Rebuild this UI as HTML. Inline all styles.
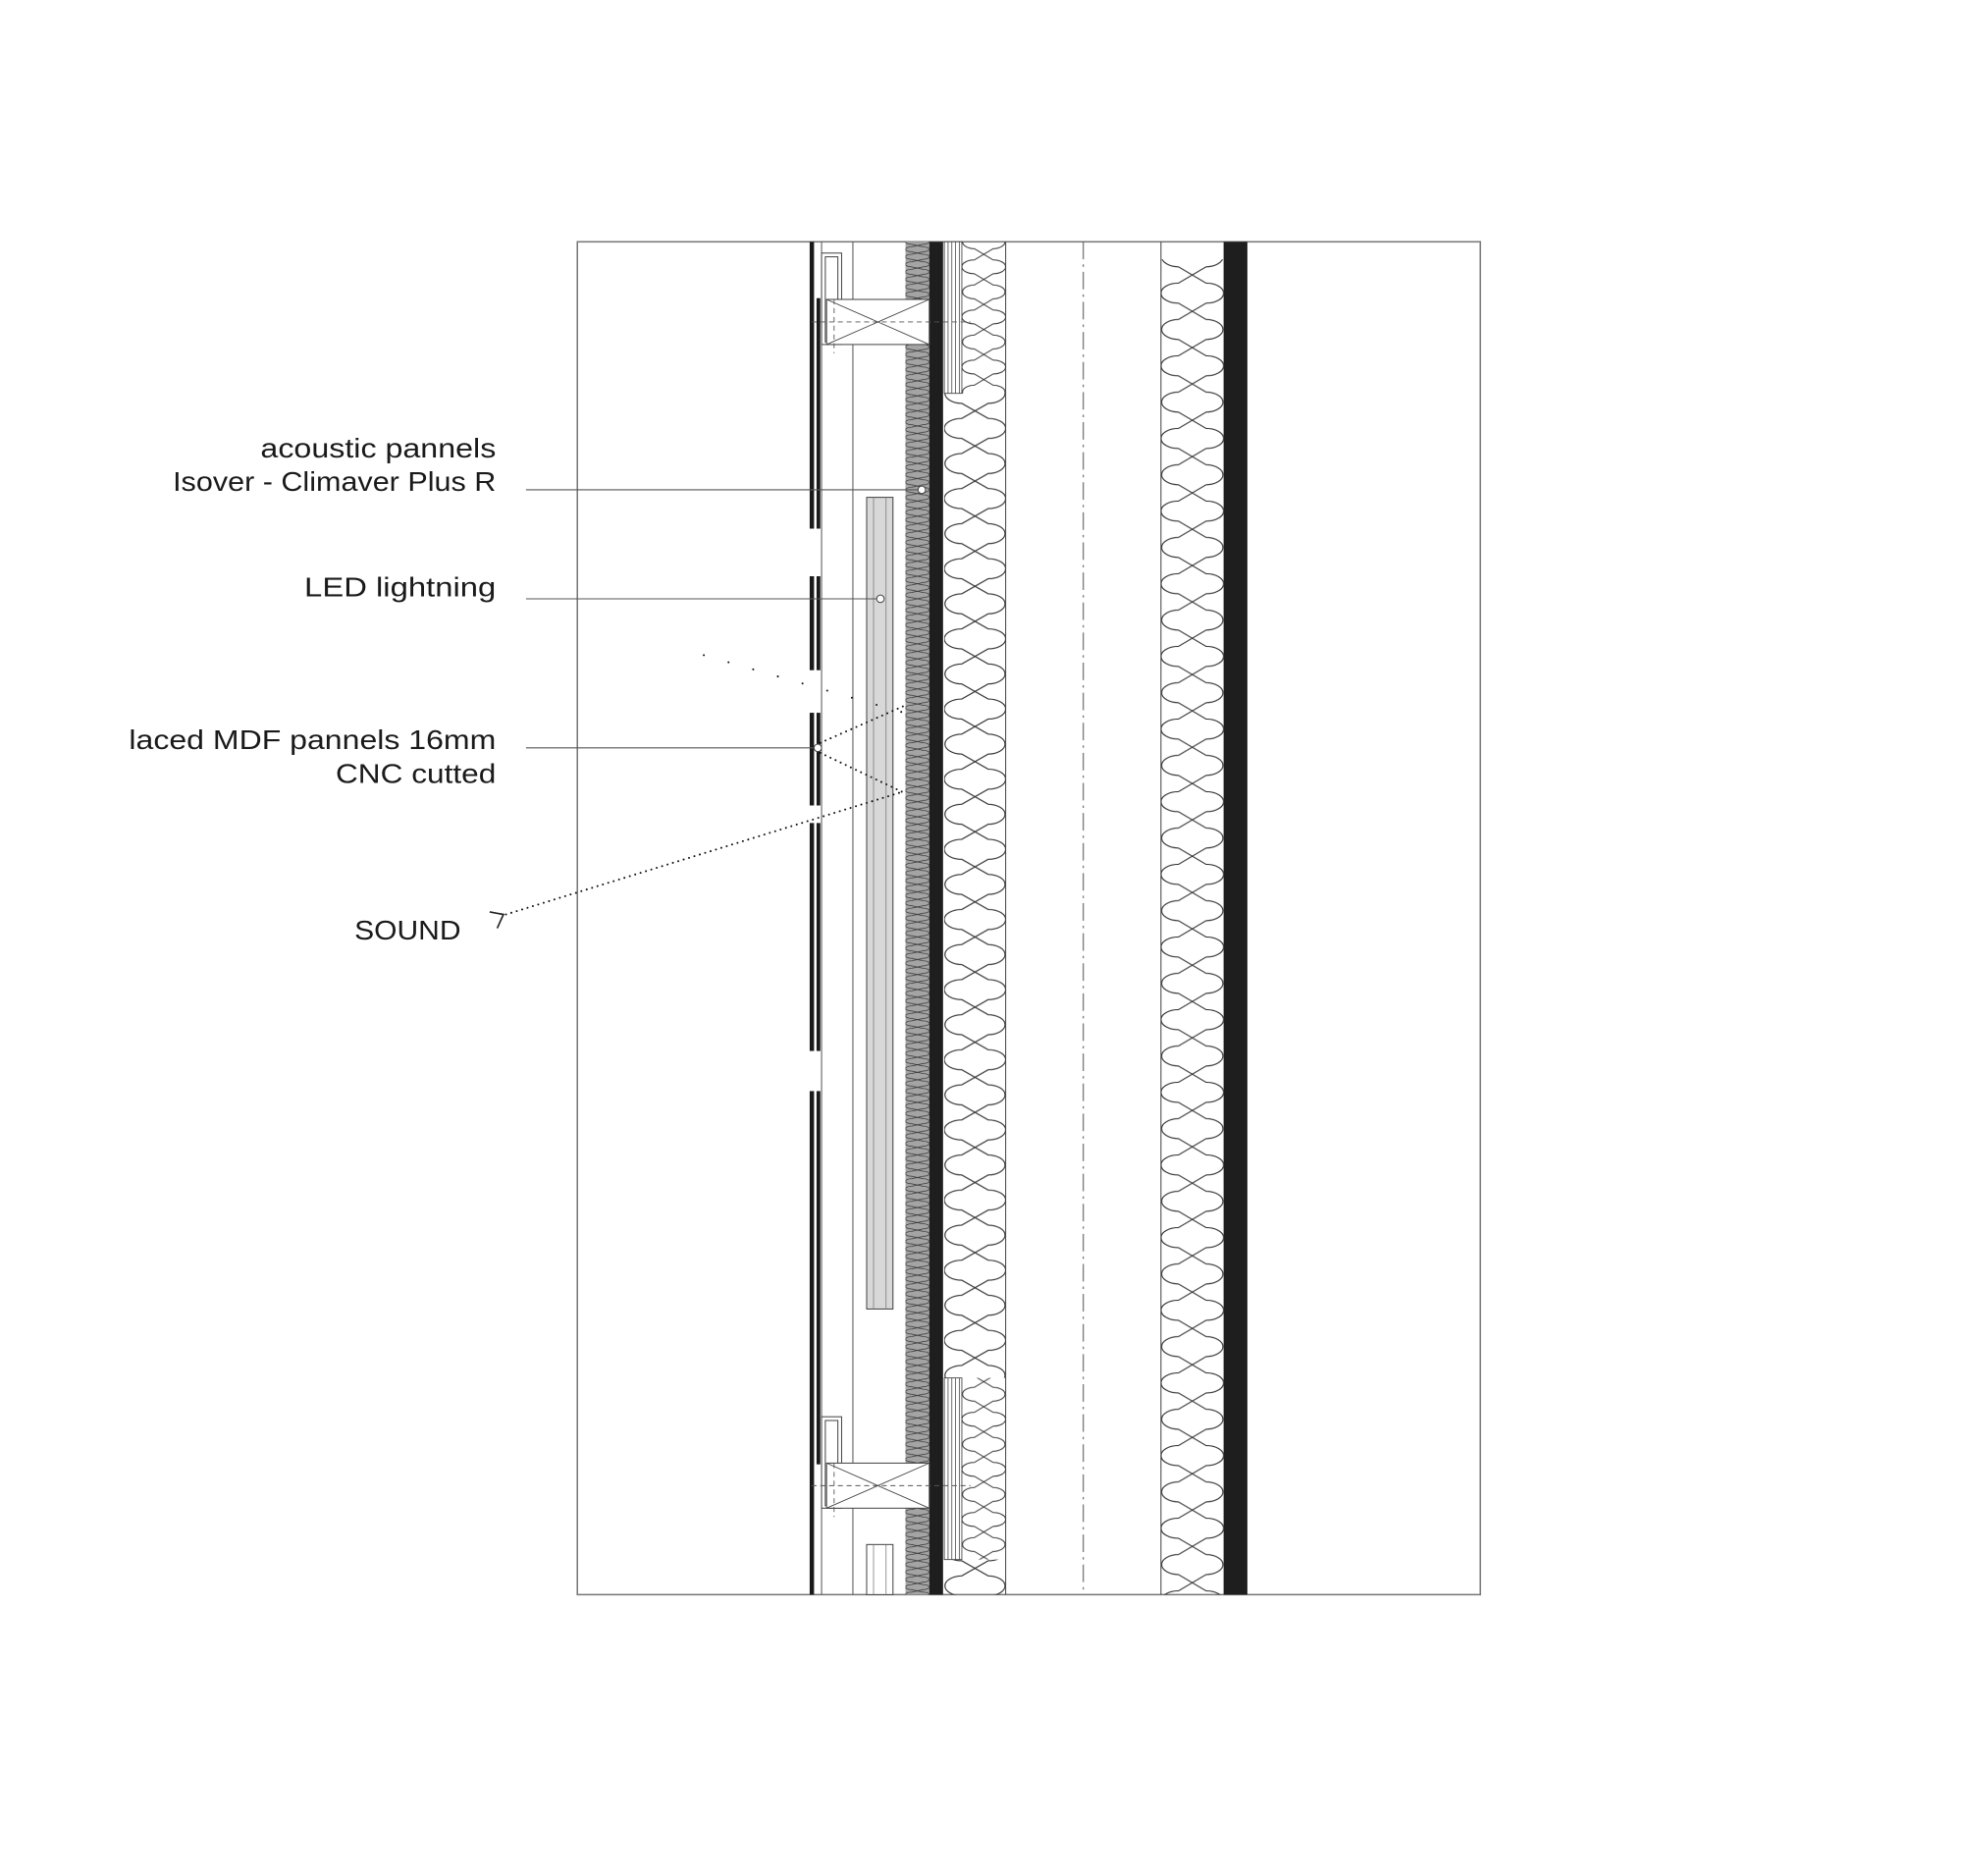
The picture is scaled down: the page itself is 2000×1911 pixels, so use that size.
<!DOCTYPE html>
<html><head><meta charset="utf-8"><style>html,body{margin:0;padding:0;background:#fff}svg{display:block}</style></head>
<body>
<svg xmlns="http://www.w3.org/2000/svg" width="2000" height="1911" viewBox="0 0 1567.4 1497.6">
<defs>
<pattern id="insR" patternUnits="userSpaceOnUse" x="927" y="205" width="50" height="58">
<path d="M0.5,0 A14 8 0 0 0 14,8 L36,21 A14 8 0 0 1 36,37 L14,50 A14 8 0 0 0 0.5,58" fill="none" stroke="#333" stroke-width="0.9"/>
<path d="M49.5,0 A14 8 0 0 1 36,8 L14,21 A14 8 0 0 0 14,37 L36,50 A14 8 0 0 1 49.5,58" fill="none" stroke="#333" stroke-width="0.9"/>
</pattern>
<pattern id="insM" patternUnits="userSpaceOnUse" x="754" y="314" width="49" height="56">
<path d="M0.5,0 A14 8 0 0 0 14,8 L35,20 A14 8 0 0 1 35,36 L14,48 A14 8 0 0 0 0.5,56" fill="none" stroke="#333" stroke-width="0.9"/>
<path d="M48.5,0 A14 8 0 0 1 35,8 L14,20 A14 8 0 0 0 14,36 L35,48 A14 8 0 0 1 48.5,56" fill="none" stroke="#333" stroke-width="0.9"/>
</pattern>
<pattern id="insN" patternUnits="userSpaceOnUse" x="768" y="193" width="35" height="40">
<path d="M0.5,0 A10 5.5 0 0 0 10,5.5 L25,14.5 A10 5.5 0 0 1 25,25.5 L10,34.5 A10 5.5 0 0 0 0.5,40" fill="none" stroke="#333" stroke-width="0.8"/>
<path d="M34.5,0 A10 5.5 0 0 1 25,5.5 L10,14.5 A10 5.5 0 0 0 10,25.5 L25,34.5 A10 5.5 0 0 1 34.5,40" fill="none" stroke="#333" stroke-width="0.8"/>
</pattern>
<pattern id="insG" patternUnits="userSpaceOnUse" x="723" y="193" width="19" height="12">
<rect width="19" height="12" fill="#a4a4a4"/>
<path d="M0,0 A5 2 0 0 0 5,2 L14,4 A5 2 0 0 1 14,8 L5,10 A5 2 0 0 0 0,12" fill="none" stroke="#333" stroke-width="0.6"/>
<path d="M19,0 A5 2 0 0 1 14,2 L5,4 A5 2 0 0 0 5,8 L14,10 A5 2 0 0 1 19,12" fill="none" stroke="#333" stroke-width="0.6"/>
</pattern>
</defs>

<rect x="461" y="193" width="721" height="1080" fill="none" stroke="#777" stroke-width="1.2"/>

<line x1="656" y1="193" x2="656" y2="1273" stroke="#555" stroke-width="0.8"/>
<line x1="681" y1="193" x2="681" y2="1273" stroke="#555" stroke-width="0.8"/>

<g fill="#1a1a1a">
<rect x="646.5" y="193" width="3.5" height="229"/>
<rect x="646.5" y="460" width="3.5" height="75"/>
<rect x="646.5" y="569" width="3.5" height="74"/>
<rect x="646.5" y="657" width="3.5" height="182"/>
<rect x="646.5" y="871" width="3.5" height="402"/>
<rect x="652" y="238" width="3" height="184"/>
<rect x="652" y="460" width="3" height="75"/>
<rect x="652" y="569" width="3" height="74"/>
<rect x="652" y="657" width="3" height="182"/>
<rect x="652" y="871" width="3" height="298"/>
</g>

<rect x="723" y="193" width="19" height="1080" fill="url(#insG)"/>
<rect x="742" y="193" width="11" height="1080" fill="#1e1e1e"/>

<g stroke="#444" stroke-width="0.7" fill="#fff">
<rect x="754" y="193" width="14" height="121"/>
<rect x="754" y="1100" width="14" height="145"/>
</g>
<g stroke="#444" stroke-width="0.6">
<line x1="757" y1="193" x2="757" y2="314"/><line x1="760" y1="193" x2="760" y2="314"/><line x1="763" y1="193" x2="763" y2="314"/><line x1="766" y1="193" x2="766" y2="314"/>
<line x1="757" y1="1100" x2="757" y2="1245"/><line x1="760" y1="1100" x2="760" y2="1245"/><line x1="763" y1="1100" x2="763" y2="1245"/><line x1="766" y1="1100" x2="766" y2="1245"/>
</g>

<rect x="768" y="193" width="35" height="121" fill="url(#insN)"/>
<rect x="754" y="314" width="49" height="786" fill="url(#insM)"/>
<rect x="768" y="1100" width="35" height="145" fill="url(#insN)"/>
<rect x="754" y="1245" width="49" height="28" fill="url(#insM)"/>
<line x1="803" y1="193" x2="803" y2="1273" stroke="#444" stroke-width="0.8"/>

<line x1="865" y1="193" x2="865" y2="1273" stroke="#555" stroke-width="0.8" stroke-dasharray="14,4,2,4"/>

<line x1="927" y1="193" x2="927" y2="1273" stroke="#444" stroke-width="0.8"/>
<rect x="927" y="207" width="50" height="1066" fill="url(#insR)"/>
<rect x="977" y="193" width="19" height="1080" fill="#1e1e1e"/>

<rect x="692" y="397" width="21" height="648" fill="#d8d8d8" stroke="#444" stroke-width="0.8"/>
<line x1="697.5" y1="397" x2="697.5" y2="1045" stroke="#777" stroke-width="0.6"/>
<line x1="707.5" y1="397" x2="707.5" y2="1045" stroke="#777" stroke-width="0.6"/>
<rect x="692" y="1233" width="21" height="40" fill="#fff" stroke="#444" stroke-width="0.8"/>
<line x1="697.5" y1="1233" x2="697.5" y2="1273" stroke="#777" stroke-width="0.6"/>
<line x1="707.5" y1="1233" x2="707.5" y2="1273" stroke="#777" stroke-width="0.6"/>

<g fill="#fff" stroke="#444" stroke-width="0.8">
<rect x="656" y="202" width="16" height="73"/>
<rect x="659" y="205" width="10" height="68"/>
<rect x="660" y="239" width="82" height="36"/>
<rect x="656" y="1131" width="16" height="73"/>
<rect x="659" y="1134" width="10" height="68"/>
<rect x="660" y="1168" width="82" height="36"/>
</g>
<g stroke="#444" stroke-width="0.7">
<line x1="660" y1="239" x2="742" y2="275"/><line x1="660" y1="275" x2="742" y2="239"/>
<line x1="660" y1="1168" x2="742" y2="1204"/><line x1="660" y1="1204" x2="742" y2="1168"/>
</g>
<g stroke="#555" stroke-width="0.7" stroke-dasharray="4,3" fill="none">
<line x1="648" y1="257" x2="775" y2="257"/><line x1="666" y1="239" x2="666" y2="282"/>
<line x1="648" y1="1186" x2="775" y2="1186"/><line x1="666" y1="1168" x2="666" y2="1211"/>
</g>

<g stroke="#555" stroke-width="0.8">
<line x1="420" y1="391" x2="733" y2="391"/>
<line x1="420" y1="478" x2="700" y2="478"/>
<line x1="420" y1="597" x2="650" y2="597"/>
</g>
<g fill="#fff" stroke="#444" stroke-width="0.8">
<circle cx="736" cy="391" r="3"/>
<circle cx="703" cy="478" r="3"/>
<circle cx="653" cy="597" r="3"/>
</g>

<g stroke="#111" stroke-width="1.6" stroke-linecap="round" fill="none">
<line x1="404" y1="730" x2="721" y2="632" stroke-dasharray="0,4.5"/>
<line x1="655" y1="593" x2="723" y2="563" stroke-dasharray="0,4.5"/>
<line x1="655" y1="601" x2="720" y2="632" stroke-dasharray="0,4.5"/>
<line x1="562" y1="523" x2="722" y2="569" stroke-dasharray="0,20.5"/>
</g>
<path d="M391,728 L402,730 L397,741" fill="none" stroke="#222" stroke-width="1.3"/>

<g font-family="Liberation Sans, sans-serif" font-size="22" fill="#1a1a1a" text-anchor="end">
<text x="396" y="365" textLength="188" lengthAdjust="spacingAndGlyphs">acoustic pannels</text>
<text x="396" y="392" textLength="258" lengthAdjust="spacingAndGlyphs">Isover - Climaver Plus R</text>
<text x="396" y="476" textLength="153" lengthAdjust="spacingAndGlyphs">LED lightning</text>
<text x="396" y="598" textLength="293" lengthAdjust="spacingAndGlyphs">laced MDF pannels 16mm</text>
<text x="396" y="625" textLength="128" lengthAdjust="spacingAndGlyphs">CNC cutted</text>
<text x="368" y="750" textLength="85" lengthAdjust="spacingAndGlyphs">SOUND</text>
</g>
</svg>
</body></html>
